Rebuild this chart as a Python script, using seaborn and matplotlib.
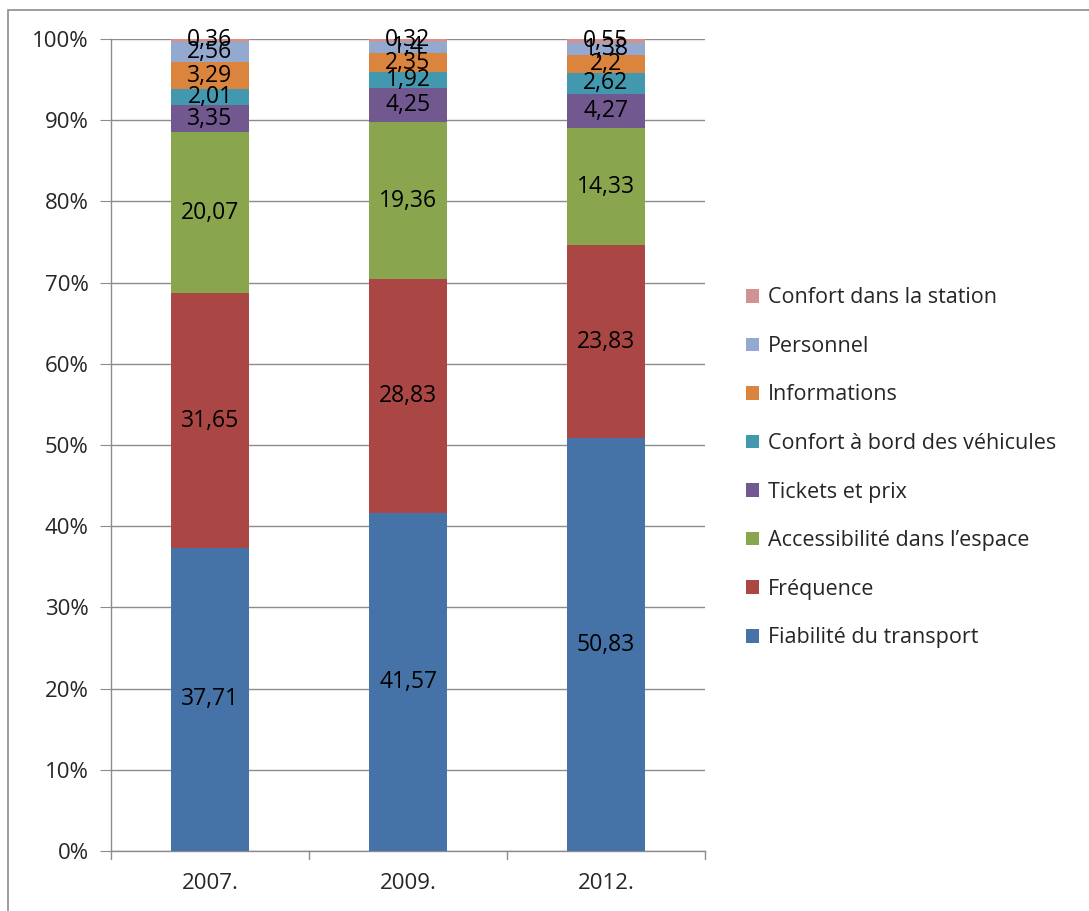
import numpy as np
import pandas as pd
import matplotlib
matplotlib.use("Agg")
import matplotlib.pyplot as plt
import seaborn as sns
from matplotlib.patches import Rectangle

years = ["2007.", "2009.", "2012."]
series_names = ["Fiabilité du transport", "Fréquence", "Accessibilité dans l’espace",
                "Tickets et prix", "Confort à bord des véhicules", "Informations",
                "Personnel", "Confort dans la station"]
fiabilite = [37.71, 41.57, 50.83]
frequence = [31.65, 28.83, 23.83]
accessibilite = [20.07, 19.36, 14.33]
tickets = [3.35, 4.25, 4.27]
confort_bord = [2.01, 1.92, 2.62]
informations = [3.29, 2.35, 2.2]
personnel = [2.56, 1.4, 1.38]
confort_station = [0.36, 0.32, 0.55]
label_texts = [
    ["37,71", "41,57", "50,83"],
    ["31,65", "28,83", "23,83"],
    ["20,07", "19,36", "14,33"],
    ["3,35", "4,25", "4,27"],
    ["2,01", "1,92", "2,62"],
    ["3,29", "2,35", "2,2"],
    ["2,56", "1,4", "1,38"],
    ["0,36", "0,32", "0,55"],
]
colors = ["#4572A7", "#AA4643", "#89A54E", "#71588F", "#4198AF", "#DB843D", "#93A9CF", "#D19392"]

sns.set_style("white")
plt.rcParams['font.family'] = ['Open Sans', 'DejaVu Sans']

data = np.array([fiabilite, frequence, accessibilite, tickets, confort_bord,
                 informations, personnel, confort_station])
totals = data.sum(axis=0)
pct = data / totals * 100

fig = plt.figure(figsize=(10.89, 9.11), dpi=100)
ax = fig.add_axes([111/1089, 1-851/911, (705-111)/1089, (851-39)/911])

bottom = np.zeros(3)
for i, name in enumerate(series_names):
    df = pd.DataFrame({"year": years, "val": pct[i]})
    sns.barplot(data=df, x="year", y="val", color=colors[i], bottom=bottom,
                width=0.395, ax=ax, edgecolor="none", linewidth=0, zorder=3,
                saturation=1, label=name)
    for j in range(3):
        ax.text(j, bottom[j] + pct[i][j] / 2, label_texts[i][j], ha="center",
                va="center", fontsize=16.5, color="black", zorder=5)
    bottom = bottom + pct[i]

ax.set_xlim(-0.5, 2.5)
ax.set_ylim(0, 100)
ax.set_yticks(np.arange(0, 101, 10))
ax.set_yticklabels([f"{v}%" for v in range(0, 101, 10)], fontsize=16)
ax.yaxis.grid(True, color="#8c8c8c", linewidth=1, zorder=0)
ax.set_axisbelow(True)
ax.set_xlabel("")
ax.set_ylabel("")
ax.tick_params(axis="x", labelsize=16, length=0, pad=16)
ax.tick_params(axis="y", length=8, color="#8c8c8c", direction="out", pad=8, left=True)
for s in ["top", "right"]:
    ax.spines[s].set_visible(False)
for s in ["left", "bottom"]:
    ax.spines[s].set_color("#8c8c8c")
    ax.spines[s].set_linewidth(1)
for xb in [-0.5, 0.5, 1.5, 2.5]:
    ax.plot([xb, xb], [0, -1.0], color="#8c8c8c", lw=1, clip_on=False)

h, l = ax.get_legend_handles_labels()
leg = ax.legend(h[::-1], l[::-1], loc="upper left", bbox_to_anchor=(727/1089, 1-268/911),
                bbox_transform=fig.transFigure, frameon=False, fontsize=15.5,
                handlelength=0.6, handleheight=0.6, handletextpad=0.4, labelspacing=1.28)

fig.patches.append(Rectangle((8/1089, -0.01), 1.1, 1 - 10/911 + 0.01, transform=fig.transFigure,
                             fill=False, edgecolor="#8c8c8c", lw=1.2))

fig.savefig("out.png", dpi=100)
